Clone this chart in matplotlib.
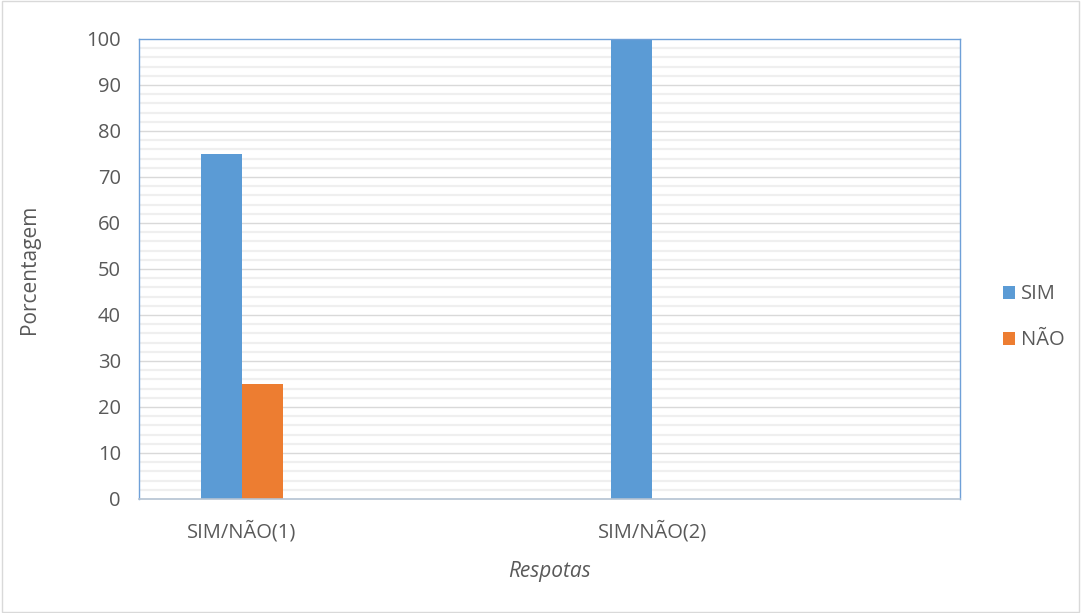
import numpy as np
import matplotlib.pyplot as plt
from matplotlib.patches import Rectangle

# Survey answers, in percent
categories = ["SIM/NÃO(1)", "SIM/NÃO(2)"]
sim_values = [75, 100]
nao_values = [25, 0]

plt.rcParams['font.family'] = ['Open Sans', 'DejaVu Sans']
text_color = "#595959"

fig = plt.figure(figsize=(10.81, 6.13), dpi=100)
ax = fig.add_axes([139 / 1081, 1 - 499 / 613, 821 / 1081, 460 / 613])

# Light minor grid every 2 units, darker major grid every 10
for y in np.arange(2, 100, 2):
    if y % 10:
        ax.axhline(y, color="#efefef", lw=1.6, zorder=0)
for y in np.arange(10, 100, 10):
    ax.axhline(y, color="#d9d9d9", lw=1.0, zorder=0)

x = np.arange(len(categories))
bar_width = 0.1
ax.bar(x - bar_width / 2, sim_values, bar_width, color="#5b9bd5",
       label="SIM", zorder=2)
ax.bar(x + bar_width / 2, nao_values, bar_width, color="#ed7d31",
       label="NÃO", zorder=2)

ax.set_xlim(-0.25, 1.75)
ax.set_ylim(0, 100)
ax.set_yticks(np.arange(0, 101, 10))
ax.set_xticks(x)
ax.set_xticklabels(categories)
ax.tick_params(axis="both", length=0, labelsize=14.5, labelcolor=text_color)
ax.tick_params(axis="y", pad=13)
ax.tick_params(axis="x", pad=16)

for side in ["top", "right", "left"]:
    ax.spines[side].set_color("#6fa0d8")
    ax.spines[side].set_linewidth(1.0)
ax.spines["bottom"].set_color("#b4c2d2")
ax.spines["bottom"].set_linewidth(1.2)

ax.set_ylabel("Porcentagem", fontsize=15, color=text_color, labelpad=33)
ax.set_xlabel("Respotas", fontsize=15, color=text_color, style="italic",
              labelpad=13)

ax.legend(loc="center left", bbox_to_anchor=(1.03, 0.395), frameon=False,
          fontsize=14.5, handlelength=0.6, handleheight=0.6,
          handletextpad=0.3, labelspacing=1.3, labelcolor=text_color)

# Thin border around the whole chart area
fig.patches.append(Rectangle((0.002, 0.002), 0.996, 0.996,
                             transform=fig.transFigure, fill=False,
                             edgecolor="#d9d9d9", lw=1.0))

fig.savefig("out.png", dpi=100)
